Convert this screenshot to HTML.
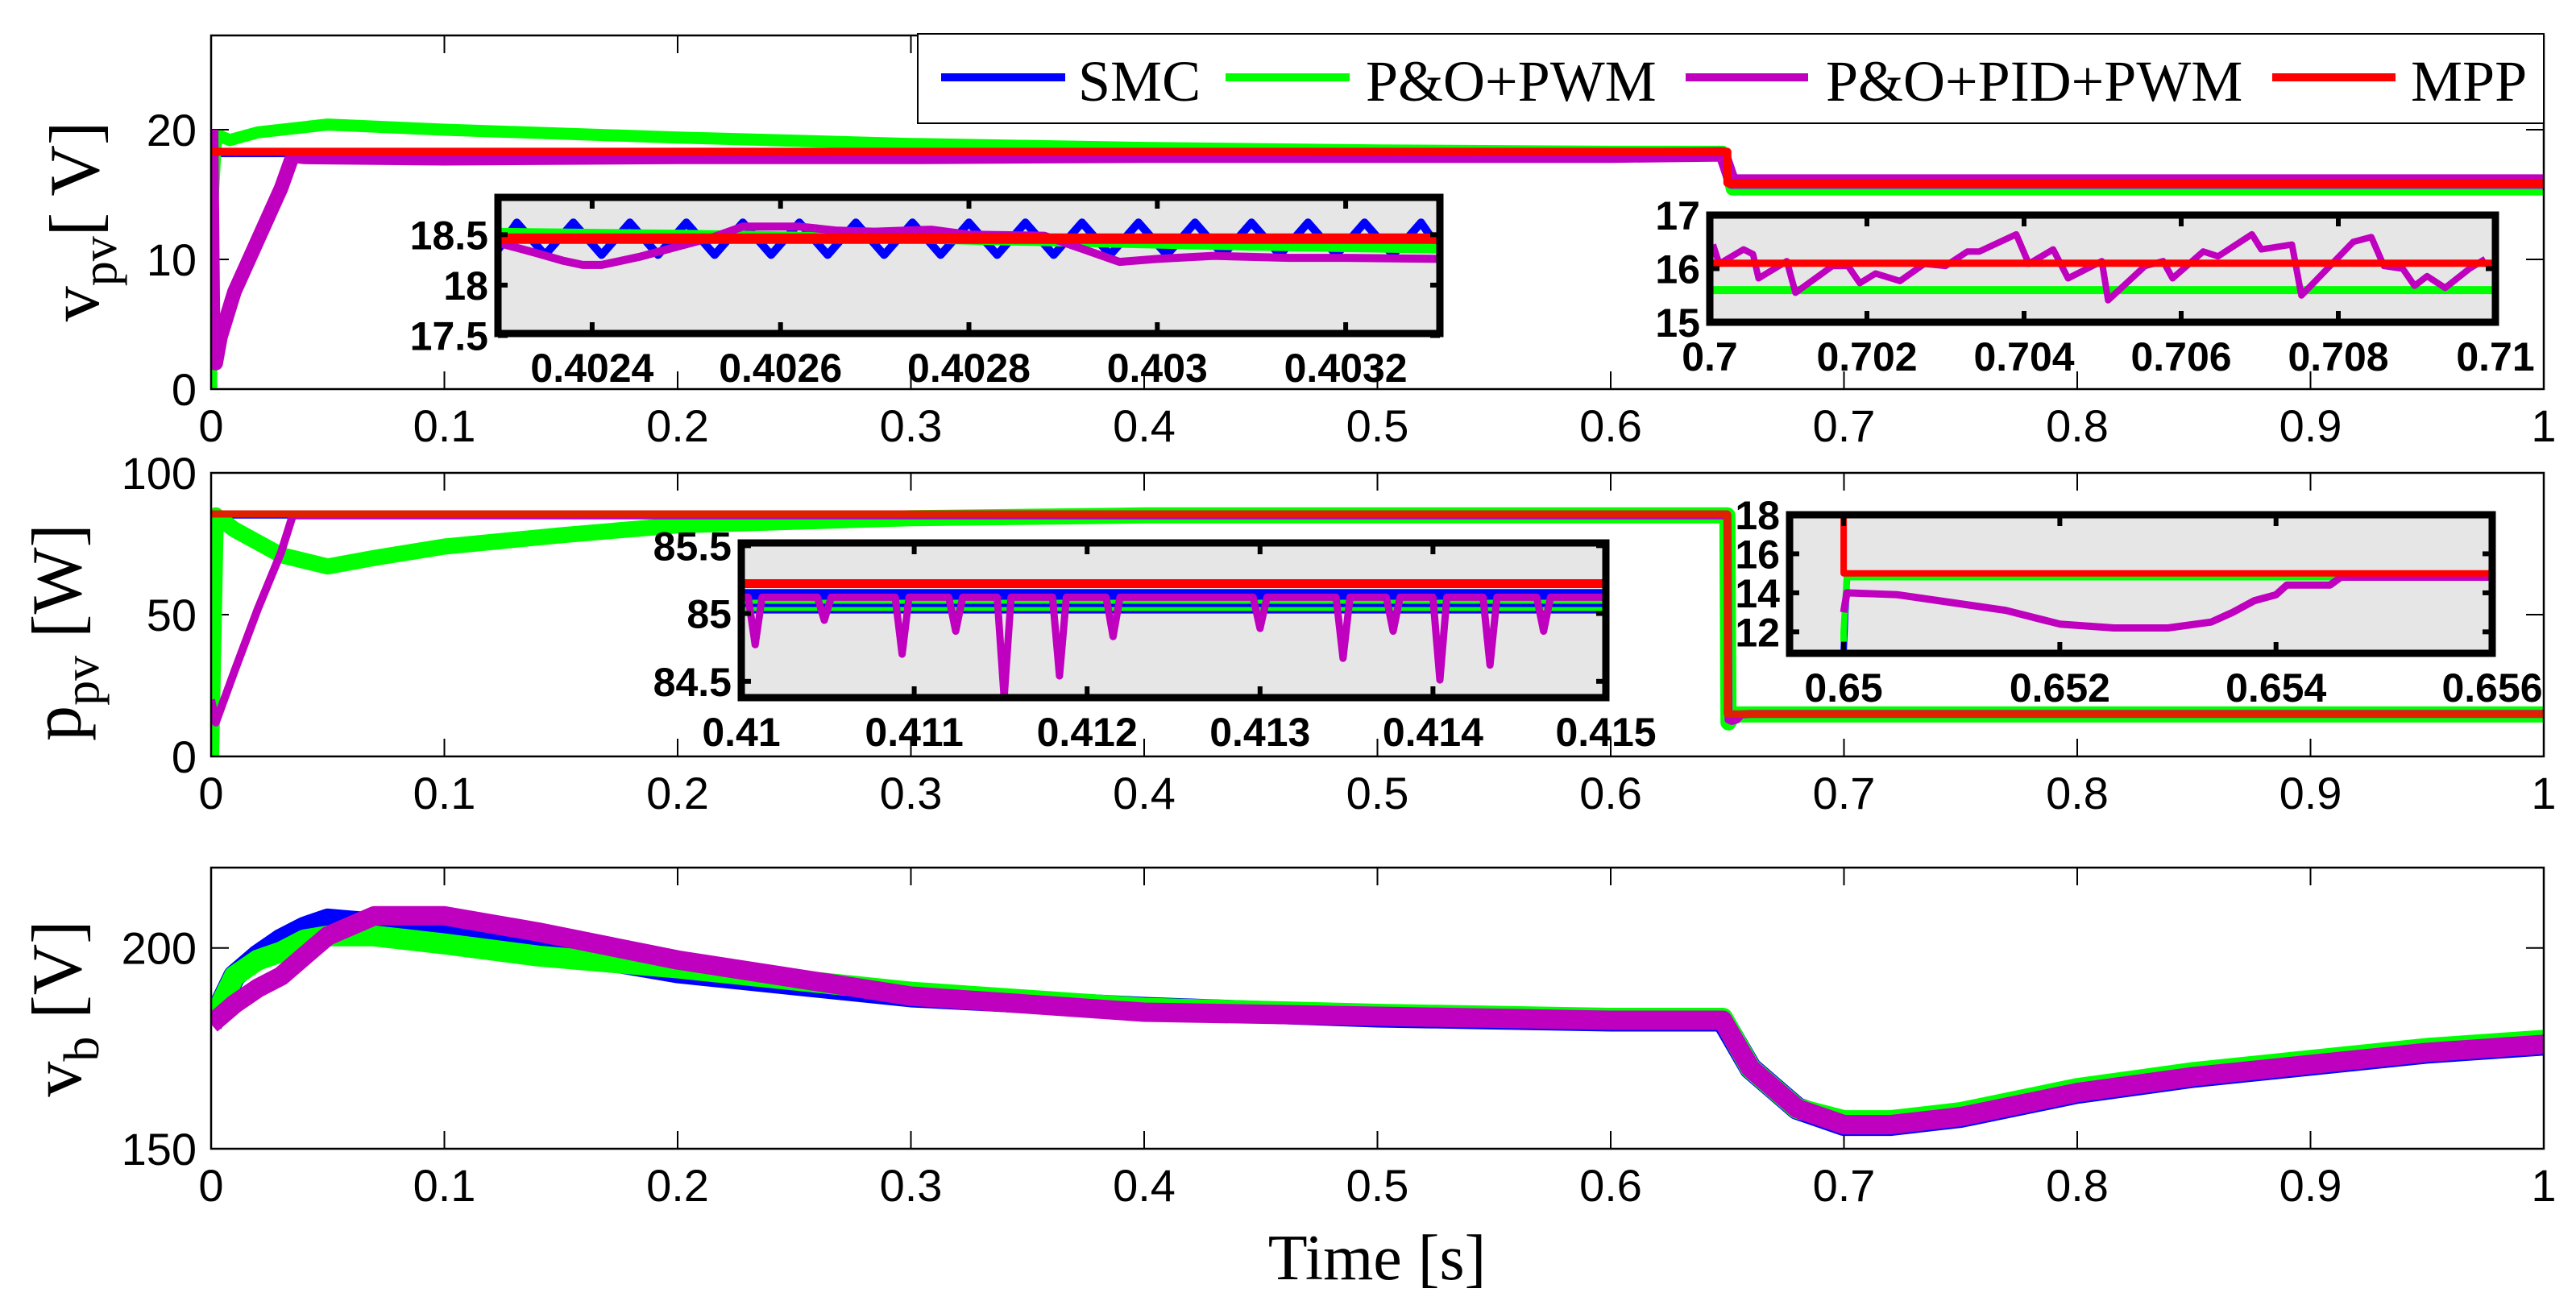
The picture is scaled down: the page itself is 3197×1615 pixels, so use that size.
<!DOCTYPE html>
<html><head><meta charset="utf-8"><title>PV MPPT comparison</title>
<style>html,body{margin:0;padding:0;background:#fff}svg{display:block}</style></head>
<body>
<svg id="fig" xmlns="http://www.w3.org/2000/svg" width="3197" height="1615" viewBox="0 0 3197 1615"></svg>
<script>
// ===== Panel 1 data: v_pv [V] =====
const p1SmcT=[0,0.001,0.003,0.648,0.652,1];
const p1SmcV=[0,18.1,18.1,18.1,15.6,15.6];
const p1PoT=[0,0.0005,0.002,0.004,0.008,0.02,0.05,0.1,0.2,0.3,0.4,0.5,0.6,0.648,0.652,0.7,1];
const p1PoV=[0,14,19,19.5,19.2,19.8,20.4,20.0,19.4,18.9,18.6,18.4,18.3,18.3,15.4,15.4,15.4];
const p1PidT=[0,0.0008,0.002,0.004,0.01,0.02,0.03,0.035,0.04,0.1,0.2,0.3,0.4,0.5,0.6,0.648,0.652,0.7,0.8,0.9,1];
const p1PidV=[20,5,2,4,7.5,11.5,15.5,18,17.9,17.8,17.9,17.9,18.0,18.0,18.0,18.1,16.0,16.0,16.0,16.0,16.0];
const p1MppT=[0,0.65,0.65,1];
const p1MppV=[18.3,18.3,15.9,15.9];
const p1YTicks=[0,10,20];
// ===== Panel 2 data: p_pv [W] =====
const p2SmcT=[0,0.002,0.65,0.6505,0.652,0.66,1];
const p2SmcV=[0,85,85,11,14.8,15,15];
const p2PoT=[0,0.002,0.01,0.03,0.05,0.07,0.1,0.15,0.2,0.3,0.4,0.65,0.6505,0.652,1];
const p2PoV=[0,85,80,71,67,70,74,78,81.5,84,85,85,12,14.8,14.8];
const p2PidT=[0,0.002,0.01,0.02,0.03,0.035,0.1,0.65,0.6505,0.652,0.654,0.656,0.66,1];
const p2PidV=[20,12,30,52,72,85,85,85,13,12.5,13,14.8,15,15];
const p2MppT=[0,0.65,0.65,1];
const p2MppV=[85.5,85.5,15,15];
const p2YTicks=[0,50,100];
// ===== Panel 3 data: v_b [V] =====
const p3T=[0,0.01,0.02,0.03,0.04,0.05,0.07,0.1,0.14,0.2,0.3,0.4,0.5,0.6,0.648,0.66,0.68,0.7,0.72,0.75,0.8,0.85,0.9,0.95,1];
const p3Smc=[181,193,198,202,205,207,206,204,200,194,188,185,183,182,182,170,160,156,156,158,164,168,171,174,176];
const p3Po=[181,193,197,199,202,203,203,201,198,195,189,185,183.5,182.5,182.5,170,160,157,157,159,165,169,172,175,177];
const p3Pid=[181,186,190,193,198,203,208,208,204,197,188,184,183,182,182,170,160,156,156,158,164,168,171,174,176];
const p3YTicks=[150,200];
const xTicks=[0,0.1,0.2,0.3,0.4,0.5,0.6,0.7,0.8,0.9,1];
const xTickLabels=["0","0.1","0.2","0.3","0.4","0.5","0.6","0.7","0.8","0.9","1"];
// ===== Inset 1 =====
const i1SmcT=[0.4023,0.40232,0.40235,0.40238,0.40241,0.40244,0.40247,0.4025,0.40253,0.40256,0.40259,0.40262,0.40265,0.40268,0.40271,0.40274,0.40277,0.4028,0.40283,0.40286,0.40289,0.40292,0.40295,0.40298,0.40301,0.40304,0.40307,0.4031,0.40313,0.40316,0.40319,0.40322,0.40325,0.40328,0.4033];
const i1SmcV=[18.35,18.62,18.30,18.62,18.30,18.62,18.30,18.62,18.30,18.62,18.30,18.62,18.30,18.62,18.30,18.62,18.30,18.62,18.30,18.62,18.30,18.62,18.30,18.62,18.30,18.62,18.30,18.62,18.30,18.62,18.30,18.62,18.30,18.62,18.35];
const i1PoT=[0.4023,0.4025,0.4027,0.4029,0.4031,0.4033];
const i1PoV=[18.52,18.50,18.47,18.43,18.39,18.36];
const i1PidT=[0.4023,0.40234,0.40237,0.40239,0.40241,0.40245,0.40249,0.40253,0.40256,0.40262,0.40266,0.4027,0.40276,0.4028,0.40288,0.40292,0.40296,0.403,0.40306,0.40314,0.4032,0.4033];
const i1PidV=[18.42,18.32,18.24,18.20,18.20,18.28,18.38,18.48,18.58,18.58,18.54,18.53,18.55,18.50,18.49,18.36,18.23,18.26,18.29,18.27,18.27,18.26];
const i1MppV=18.46;
// ===== Inset 2 =====
const i2PidT=[0.70004,0.70012,0.70043,0.70055,0.70062,0.70098,0.70109,0.70156,0.70176,0.70191,0.70211,0.70242,0.70273,0.703,0.70328,0.70343,0.7039,0.70406,0.70437,0.70456,0.70499,0.70507,0.70554,0.70577,0.70589,0.70628,0.70647,0.7069,0.70702,0.70741,0.70753,0.70819,0.70842,0.70858,0.70882,0.70897,0.70913,0.70936,0.70967,0.70987];
const i2PidV=[16.45,16.09,16.36,16.27,15.82,16.14,15.55,16.05,16.05,15.73,15.91,15.77,16.09,16.05,16.32,16.32,16.64,16.09,16.36,15.82,16.14,15.41,16.05,16.14,15.82,16.32,16.23,16.64,16.36,16.45,15.5,16.5,16.59,16.05,16.0,15.68,15.86,15.64,16.0,16.18];
const i2PoV=15.6, i2MppV=16.1;
// ===== Inset 3 =====
const i3PidT=[0.41,0.41004,0.41008,0.41012,0.41044,0.41048,0.41052,0.41089,0.41093,0.41097,0.4112,0.41124,0.41128,0.41148,0.41152,0.41156,0.4118,0.41184,0.41188,0.41211,0.41215,0.41219,0.41296,0.413,0.41304,0.41344,0.41348,0.41352,0.41373,0.41377,0.41381,0.414,0.41404,0.41408,0.41429,0.41433,0.41437,0.4146,0.41464,0.41468,0.415];
const i3PidV=[85.12,85.12,84.77,85.12,85.12,84.95,85.12,85.12,84.70,85.12,85.12,84.87,85.12,85.12,84.38,85.12,85.12,84.54,85.12,85.12,84.83,85.12,85.12,84.89,85.12,85.12,84.67,85.12,85.12,84.87,85.12,85.12,84.51,85.12,85.12,84.62,85.12,85.12,84.87,85.12,85.12];
const i3SmcV=85.09, i3PoV=85.06, i3MppV=85.22;
// ===== Inset 4 =====
const i4SmcT=[0.65,0.65,0.65003,0.656], i4SmcV=[10.9,11,14.8,14.8];
const i4PoT=[0.65,0.65,0.65003,0.656], i4PoV=[11.5,12,14.8,14.8];
const i4PidT=[0.65,0.65003,0.6505,0.651,0.6515,0.652,0.6525,0.653,0.6534,0.6536,0.6538,0.654,0.6541,0.6545,0.6546,0.656];
const i4PidV=[13.0,14.0,13.9,13.5,13.1,12.4,12.2,12.2,12.5,13.0,13.6,13.9,14.4,14.4,14.8,14.8];
const i4MppT=[0.65,0.65,0.656], i4MppV=[18,15,15];

const NS="http://www.w3.org/2000/svg";
const svg=document.getElementById('fig');
function mk(tag,attrs,parent){const e=document.createElementNS(NS,tag);for(const k in attrs)e.setAttribute(k,attrs[k]);(parent||svg).appendChild(e);return e;}
const BLUE="#0000ff",GREEN="#00ff00",PURP="#bf00bf",RED="#ff0000";
let clipId=0;
function axes(x0,x1,y0,y1,xmin,xmax,ymin,ymax){
  return {x:t=>x0+(t-xmin)/(xmax-xmin)*(x1-x0),y:v=>y1-(v-ymin)/(ymax-ymin)*(y1-y0),x0,x1,y0,y1};
}
function clip(a){const id='c'+(clipId++);const cp=mk('clipPath',{id});mk('rect',{x:a.x0,y:a.y0,width:a.x1-a.x0,height:a.y1-a.y0},cp);return 'url(#'+id+')';}
function line(a,ts,vs,color,w,name,g){
  let d='';for(let i=0;i<ts.length;i++)d+=(i?'L':'M')+a.x(ts[i]).toFixed(1)+' '+a.y(vs[i]).toFixed(1);
  const p=mk('path',{d,fill:'none',stroke:color,'stroke-width':w,'stroke-linejoin':'round'},g);
  
  
  return p;
}
function txt(x,y,s,size,opts,parent){const o=Object.assign({x,y,'font-size':size,'font-family':'"Liberation Sans", sans-serif',fill:'#000'},opts||{});const e=mk('text',o,parent);e.textContent=s;return e;}

function mainPanel(a,yTicks,key){
  const g=mk('g',{});
  
  
  mk('rect',{x:a.x0,y:a.y0,width:a.x1-a.x0,height:a.y1-a.y0,fill:'#fff',stroke:'none'},g);
  xTicks.forEach((t,i)=>{const X=a.x(t);
    mk('line',{x1:X,y1:a.y1,x2:X,y2:a.y1-22,stroke:'#000','stroke-width':2},g);
    mk('line',{x1:X,y1:a.y0,x2:X,y2:a.y0+22,stroke:'#000','stroke-width':2},g);
    const l=txt(X,a.y1+65,xTickLabels[i],56,{'text-anchor':'middle'},g);
    
    
  });
  yTicks.forEach(v=>{const Y=a.y(v);
    mk('line',{x1:a.x0,y1:Y,x2:a.x0+22,y2:Y,stroke:'#000','stroke-width':2},g);
    mk('line',{x1:a.x1,y1:Y,x2:a.x1-22,y2:Y,stroke:'#000','stroke-width':2},g);
    const l=txt(a.x0-18,Y+20,String(v),56,{'text-anchor':'end'},g);
    
    
  });
  return g;
}
function frame(a){mk('rect',{x:a.x0,y:a.y0,width:a.x1-a.x0,height:a.y1-a.y0,fill:'none',stroke:'#000','stroke-width':2.5});}

const A1=axes(262,3157,44,483,0,1,0,27.27);
const A2=axes(262,3157,587,939,0,1,0,100);
const A3=axes(262,3157,1077,1426,0,1,150,220);
mainPanel(A1,p1YTicks,'vpv');mainPanel(A2,p2YTicks,'ppv');mainPanel(A3,p3YTicks,'vb');

let g,c;
c=clip(A1);g=mk('g',{'clip-path':c});
line(A1,p1SmcT,p1SmcV,BLUE,7,'vpv-smc-line',g);
line(A1,p1PoT,p1PoV,GREEN,15,'vpv-po-pwm-line',g);
line(A1,p1PidT,p1PidV,PURP,18,'vpv-po-pid-pwm-line',g);
line(A1,p1MppT,p1MppV,RED,10,'vpv-mpp-line',g);
c=clip(A2);g=mk('g',{'clip-path':c});
line(A2,p2SmcT,p2SmcV,BLUE,8,'ppv-smc-line',g);
line(A2,p2PoT,p2PoV,GREEN,20,'ppv-po-pwm-line',g);
line(A2,p2PidT,p2PidV,PURP,10,'ppv-po-pid-pwm-line',g);
line(A2,p2MppT,p2MppV,"#dd2200",9,'ppv-mpp-line',g);
c=clip(A3);g=mk('g',{'clip-path':c});
line(A3,p3T,p3Smc,BLUE,28,'vb-smc-line',g);
line(A3,p3T,p3Po,GREEN,26,'vb-po-pwm-line',g);
line(A3,p3T,p3Pid,PURP,24,'vb-po-pid-pwm-line',g);
frame(A1);frame(A2);frame(A3);

function inset(a,xt,xl,yt,name,draw){
  const gg=mk('g',{});
  
  
  mk('rect',{x:a.x0,y:a.y0,width:a.x1-a.x0,height:a.y1-a.y0,fill:'#e6e6e6'},gg);
  const cg=mk('g',{'clip-path':clip(a)},gg);
  draw(cg);
  xt.forEach((t,i)=>{const X=a.x(t);
    mk('line',{x1:X,y1:a.y1,x2:X,y2:a.y1-14,stroke:'#000','stroke-width':6},gg);
    mk('line',{x1:X,y1:a.y0,x2:X,y2:a.y0+14,stroke:'#000','stroke-width':6},gg);
    txt(X,a.y1+60,xl[i],50,{'text-anchor':'middle','font-weight':'bold'},gg);});
  yt.forEach(v=>{const Y=a.y(v);
    mk('line',{x1:a.x0,y1:Y,x2:a.x0+12,y2:Y,stroke:'#000','stroke-width':6},gg);
    mk('line',{x1:a.x1,y1:Y,x2:a.x1-12,y2:Y,stroke:'#000','stroke-width':6},gg);
    txt(a.x0-12,Y+18,String(v),50,{'text-anchor':'end','font-weight':'bold'},gg);});
  mk('rect',{x:a.x0,y:a.y0,width:a.x1-a.x0,height:a.y1-a.y0,fill:'none',stroke:'#000','stroke-width':9},gg);
}
const I1=axes(618,1787,245,414,0.4023,0.4033,17.52,18.87);
inset(I1,[0.4024,0.4026,0.4028,0.403,0.4032],["0.4024","0.4026","0.4028","0.403","0.4032"],[17.5,18,18.5],'vpv-inset-04028',g=>{
  line(I1,i1SmcT,i1SmcV,BLUE,10,'inset1-smc-line',g);
  line(I1,i1PoT,i1PoV,GREEN,12,'inset1-po-pwm-line',g);
  line(I1,i1PidT,i1PidV,PURP,10,'inset1-po-pid-pwm-line',g);
  line(I1,[0.4023,0.4033],[i1MppV,i1MppV],RED,13,'inset1-mpp-line',g);
});
const I2=axes(2122,3097,267,400,0.7,0.71,15,17);
inset(I2,[0.7,0.702,0.704,0.706,0.708,0.71],["0.7","0.702","0.704","0.706","0.708","0.71"],[15,16,17],'vpv-inset-07',g=>{
  line(I2,[0.7,0.71],[i2PoV,i2PoV],GREEN,10,'inset2-po-pwm-line',g);
  line(I2,i2PidT,i2PidV,PURP,8,'inset2-po-pid-pwm-line',g);
  line(I2,[0.7,0.71],[i2MppV,i2MppV],RED,9,'inset2-mpp-line',g);
});
const I3=axes(920,1993,674,866,0.41,0.415,84.38,85.52);
inset(I3,[0.41,0.411,0.412,0.413,0.414,0.415],["0.41","0.411","0.412","0.413","0.414","0.415"],[84.5,85,85.5],'ppv-inset-041',g=>{
  mk('rect',{x:I3.x0,y:I3.y(85.18),width:I3.x1-I3.x0,height:I3.y(85.0)-I3.y(85.18),fill:BLUE},g);
  line(I3,[0.41,0.415],[i3PoV,i3PoV],GREEN,14,'inset3-po-pwm-line',g);
  line(I3,[0.41,0.415],[i3SmcV-0.03,i3SmcV-0.03],BLUE,4,'inset3-smc-line',g);
  line(I3,i3PidT,i3PidV,PURP,9,'inset3-po-pid-pwm-line',g);
  line(I3,[0.41,0.415],[i3MppV,i3MppV],RED,11,'inset3-mpp-line',g);
});
const I4=axes(2221,3093,639,811,0.6495,0.656,10.9,18);
inset(I4,[0.65,0.652,0.654,0.656],["0.65","0.652","0.654","0.656"],[12,14,16,18],'ppv-inset-065',g=>{
  line(I4,i4SmcT,i4SmcV,BLUE,8,'inset4-smc-line',g);
  line(I4,i4PoT,i4PoV,GREEN,8,'inset4-po-pwm-line',g);
  line(I4,i4PidT,i4PidV,PURP,9,'inset4-po-pid-pwm-line',g);
  line(I4,i4MppT,i4MppV,RED,8,'inset4-mpp-line',g);
});

const lg=mk('g',{});


mk('rect',{x:1139,y:42,width:2018,height:111,fill:'#fff',stroke:'#000','stroke-width':2},lg);
[[1168,1322,BLUE,1338,'SMC'],[1521,1675,GREEN,1695,'P&O+PWM'],[2092,2244,PURP,2266,'P&O+PID+PWM'],[2820,2973,RED,2992,'MPP']].forEach(e=>{
  const s=mk('line',{x1:e[0],y1:96,x2:e[1],y2:96,stroke:e[2],'stroke-width':10},lg);
  
  
  const t=txt(e[3],125,e[4],72,{'font-family':'"Liberation Serif", serif'},lg);
  
  
});

function ylab(x,y,main,sub,rest,name){
  const t=mk('text',{x:0,y:0,transform:`translate(${x},${y}) rotate(-90)`,'text-anchor':'middle','font-size':88,'font-family':'"Liberation Serif", serif'});
  
  
  const a=mk('tspan',{},t);a.textContent=main;
  const b=mk('tspan',{'font-size':62,dy:22},t);b.textContent=sub;
  const c2=mk('tspan',{dy:-22},t);c2.textContent=rest;
}
ylab(122,275,'v','pv','[ V]','vpv-y-axis-title');
ylab(100,785,'p','pv',' [W]','ppv-y-axis-title');
ylab(100,1252,'v','b',' [V]','vb-y-axis-title');
const xt=txt(1709,1588,'Time [s]',80,{'text-anchor':'middle','font-family':'"Liberation Serif", serif'});


</script>
</body></html>
